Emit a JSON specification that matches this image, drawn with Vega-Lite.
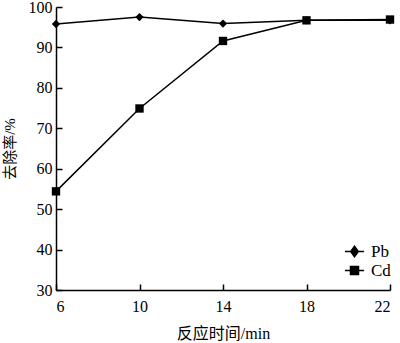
{
  "$schema": "https://vega.github.io/schema/vega-lite/v6.json",
  "width": 334,
  "height": 283,
  "autosize": {"type": "none"},
  "padding": {"left": 56, "top": 7, "right": 10, "bottom": 53},
  "background": "white",
  "config": {
    "view": {"stroke": null},
    "font": "Liberation Serif",
    "axis": {
      "grid": false,
      "domainColor": "black",
      "domainWidth": 1.5,
      "labelFont": "Liberation Serif",
      "labelFontSize": 16,
      "labelColor": "black",
      "titleFont": "Liberation Serif, Noto Sans CJK SC",
      "titleFontSize": 15,
      "titleFontWeight": "normal",
      "titleColor": "black"
    }
  },
  "data": {
    "values": [
      {"t": 6, "r": 95.8, "s": "Pb"},
      {"t": 10, "r": 97.5, "s": "Pb"},
      {"t": 14, "r": 95.9, "s": "Pb"},
      {"t": 18, "r": 96.7, "s": "Pb"},
      {"t": 22, "r": 96.7, "s": "Pb"},
      {"t": 6, "r": 54.4, "s": "Cd"},
      {"t": 10, "r": 74.9, "s": "Cd"},
      {"t": 14, "r": 91.6, "s": "Cd"},
      {"t": 18, "r": 96.7, "s": "Cd"},
      {"t": 22, "r": 96.9, "s": "Cd"}
    ]
  },
  "resolve": {
    "scale": {"shape": "independent"},
    "legend": {"shape": "independent"},
    "axis": {"x": "independent", "y": "independent"}
  },
  "layer": [
    {
      "mark": {"type": "line", "color": "black", "strokeWidth": 1.5},
      "encoding": {
        "x": {
          "field": "t", "type": "quantitative",
          "scale": {"domain": [6, 22], "nice": false, "zero": false},
          "axis": {"orient": "bottom", "values": [6, 10, 14, 18, 22], "title": "反应时间/min", "ticks": true, "tickSize": 0, "tickColor": "transparent", "labelPadding": 8, "titlePadding": 11, "titleFontSize": 16}
        },
        "y": {
          "field": "r", "type": "quantitative",
          "scale": {"domain": [30, 100], "nice": false, "zero": false},
          "axis": {"orient": "left", "values": [30, 40, 50, 60, 70, 80, 90, 100], "title": "去除率/%", "ticks": true, "tickSize": 0, "tickColor": "transparent", "labelPadding": 4, "titlePadding": 11}
        },
        "detail": {"field": "s"}
      }
    },
    {
      "mark": {"type": "point", "filled": true, "color": "black", "opacity": 1, "size": 70},
      "encoding": {
        "x": {
          "field": "t", "type": "quantitative",
          "axis": {"orient": "top", "offset": -283, "values": [6, 10, 14, 18, 22], "title": null, "labels": false, "domain": false, "ticks": true, "tickSize": 6, "tickColor": "black", "tickWidth": 1.5}
        },
        "y": {
          "field": "r", "type": "quantitative",
          "axis": {"orient": "right", "offset": -334, "values": [30, 40, 50, 60, 70, 80, 90, 100], "title": null, "labels": false, "domain": false, "ticks": true, "tickSize": 6, "tickColor": "black", "tickWidth": 1.5}
        },
        "shape": {
          "field": "s", "type": "nominal",
          "scale": {"domain": ["Pb", "Cd"], "range": ["diamond", "square"]},
          "legend": null
        }
      }
    },
    {
      "transform": [{"filter": "datum.t > 1000"}],
      "mark": {"type": "point", "filled": false, "stroke": "black", "fill": "black", "strokeWidth": 1.5, "opacity": 1},
      "encoding": {
        "x": {"field": "t", "type": "quantitative", "axis": null},
        "y": {"field": "r", "type": "quantitative", "axis": null},
        "shape": {
          "field": "s", "type": "nominal",
          "scale": {"domain": ["Pb", "Cd"], "range": ["M-2.4,0H2.4M0,-1.3L0.95,0L0,1.3L-0.95,0Z", "M-2.4,0H2.4M-1,-1H1V1H-1Z"]},
          "legend": {
            "title": null,
            "orient": "none",
            "legendX": 290,
            "legendY": 236,
            "labelFont": "Liberation Serif",
            "labelFontSize": 17,
            "labelColor": "black",
            "rowPadding": 1,
            "symbolSize": 64,
            "labelOffset": 8
          }
        }
      }
    }
  ]
}
